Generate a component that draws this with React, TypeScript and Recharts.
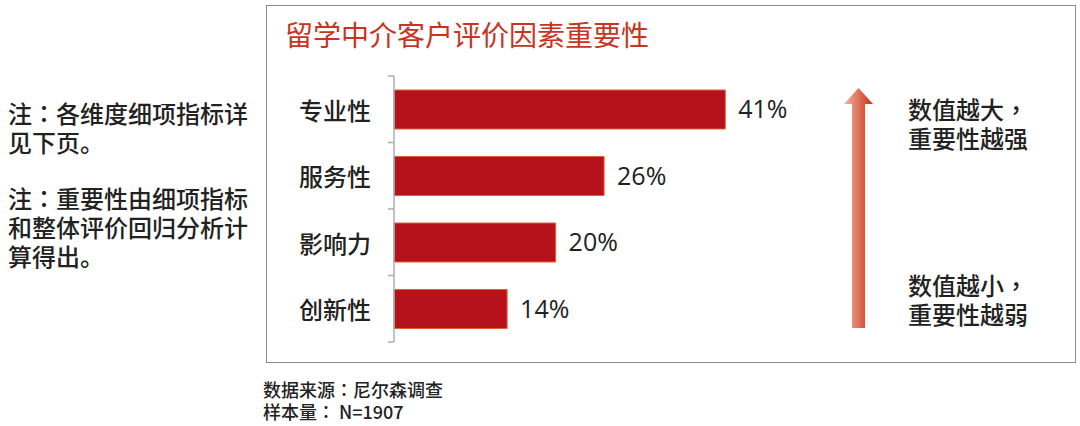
import { BarChart, Bar, XAxis, YAxis, LabelList } from "recharts";

const categories = ["专业性", "服务性", "影响力", "创新性"];
const importance = [41, 26, 20, 14];

const data = categories.map((name, i) => ({ name, value: importance[i] }));

const CJK = "'Noto Sans CJK SC', 'Open Sans', sans-serif";
const TC = "'Noto Sans CJK TC', sans-serif";
const TEXT = "#222";

const CHART_H = 300;
const MARGIN = { top: 16, right: 0, bottom: 18, left: 0 };
const BAND = (CHART_H - MARGIN.top - MARGIN.bottom) / categories.length;

// label at the band centre, tick marks on the band edges
function CategoryTick(props: any) {
  const { x, y, payload, index } = props;
  const ax = x + 23;
  return (
    <g>
      <line x1={ax - 6} x2={ax} y1={y - BAND / 2} y2={y - BAND / 2} stroke="#aeaeae" strokeWidth={1.5} />
      {index === categories.length - 1 && (
        <line x1={ax - 6} x2={ax} y1={y + BAND / 2} y2={y + BAND / 2} stroke="#aeaeae" strokeWidth={1.5} />
      )}
      <text
        x={x}
        y={y}
        textAnchor="end"
        dominantBaseline="central"
        fontSize={24}
        fontWeight={500}
        fill={TEXT}
        fontFamily={CJK}
      >
        {payload.value}
      </text>
    </g>
  );
}

const abs = (left: number, top: number): React.CSSProperties => ({
  position: "absolute",
  left,
  top,
});

const Colon = () => <span style={{ fontFamily: TC }}>：</span>;
const Comma = () => <span style={{ fontFamily: TC }}>，</span>;

export default function App() {
  return (
    <div
      style={{
        position: "absolute",
        left: 0,
        top: 0,
        width: 1080,
        height: 426,
        background: "#fff",
        fontFamily: CJK,
        fontWeight: 500,
        color: TEXT,
      }}
    >
      {/* notes on the left */}
      <div style={{ ...abs(8, 98), fontSize: 24, lineHeight: "29px" }}>
        <div>注<Colon />各维度细项指标详</div>
        <div>见下页。</div>
      </div>
      <div style={{ ...abs(8, 183), fontSize: 24, lineHeight: "29px" }}>
        <div>注<Colon />重要性由细项指标</div>
        <div>和整体评价回归分析计</div>
        <div>算得出。</div>
      </div>

      {/* frame */}
      <div
        style={{
          ...abs(266, 5),
          width: 808,
          height: 356,
          border: "1.5px solid #8c8c8c",
        }}
      />
      <div
        style={{
          ...abs(285, 20),
          fontSize: 28,
          lineHeight: "28px",
          fontWeight: 400,
          color: "#c8341f",
        }}
      >
        留学中介客户评价因素重要性
      </div>

      <div style={abs(270, 60)}>
        <BarChart
          width={528}
          height={CHART_H}
          data={data}
          layout="vertical"
          margin={MARGIN}
        >
          <XAxis type="number" domain={[0, 50]} hide />
          <YAxis
            type="category"
            dataKey="name"
            width={124}
            tickSize={6}
            tickMargin={17}
            tickLine={false}
            axisLine={{ stroke: "#aeaeae", strokeWidth: 1.5 }}
            tick={<CategoryTick />}
          />
          <Bar
            dataKey="value"
            barSize={39}
            fill="#b5121b"
            stroke="#e0603a"
            strokeWidth={1}
            isAnimationActive={false}
          >
            <LabelList
              dataKey="value"
              position="right"
              offset={13}
              formatter={(v: any) => `${v}%`}
              style={{ fontSize: 25, fill: TEXT, fontFamily: "'Open Sans', sans-serif" }}
            />
          </Bar>
        </BarChart>
      </div>

      {/* importance arrow */}
      <svg style={abs(840, 84)} width={40} height={250}>
        <defs>
          <linearGradient id="arrowGrad" x1="0" y1="0" x2="1" y2="0">
            <stop offset="0" stopColor="#f5b49a" />
            <stop offset="1" stopColor="#c8321c" />
          </linearGradient>
        </defs>
        <path
          d="M4 20 L18.5 4 L33 20 L25 20 L25 244 L12 244 L12 20 Z"
          fill="url(#arrowGrad)"
        />
      </svg>
      <div style={{ ...abs(908, 94), fontSize: 24, lineHeight: "29px" }}>
        <div>数值越大<Comma /></div>
        <div>重要性越强</div>
      </div>
      <div style={{ ...abs(908, 270), fontSize: 24, lineHeight: "29px" }}>
        <div>数值越小<Comma /></div>
        <div>重要性越弱</div>
      </div>

      {/* source */}
      <div style={{ ...abs(263, 378), fontSize: 18, lineHeight: "22px" }}>
        <div>数据来源<Colon />尼尔森调查</div>
        <div>样本量<Colon /> N=1907</div>
      </div>
    </div>
  );
}
